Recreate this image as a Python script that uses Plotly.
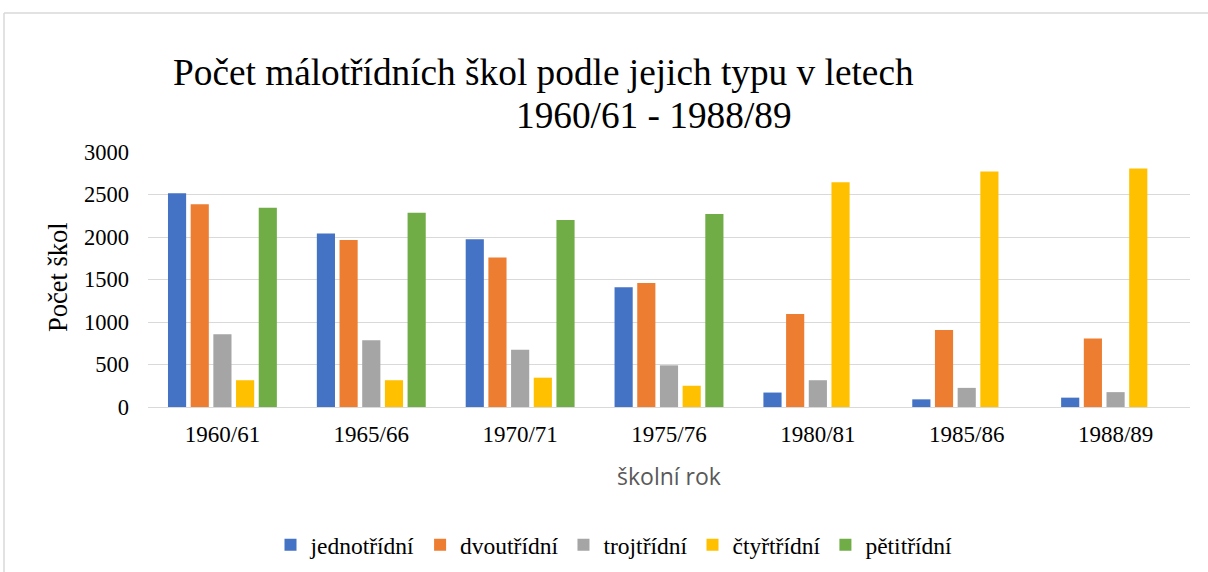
import plotly.graph_objects as go

years = ["1960/61", "1965/66", "1970/71", "1975/76", "1980/81", "1985/86", "1988/89"]
jednotridni = [2515, 2040, 1975, 1410, 170, 90, 110]
dvoutridni = [2385, 1965, 1760, 1460, 1095, 905, 805]
trojtridni = [855, 785, 675, 490, 315, 225, 175]
ctyrtridni = [315, 315, 345, 250, 2645, 2770, 2805]
petitridni = [2345, 2285, 2200, 2270, None, None, None]

series = [
    ("jednotřídní", jednotridni, "#4472C4"),
    ("dvoutřídní", dvoutridni, "#ED7D31"),
    ("trojtřídní", trojtridni, "#A5A5A5"),
    ("čtyřtřídní", ctyrtridni, "#FFC000"),
    ("pětitřídní", petitridni, "#70AD47"),
]

SERIF = "Liberation Serif, Times New Roman, serif"

fig = go.Figure()
for name, vals, col in series:
    fig.add_trace(go.Bar(x=years, y=vals, name=name, marker=dict(color=col, line=dict(width=0))))

W, H = 1208, 572
L, R, T, B = 148, 18, 152, 165
pw, ph = W - L - R, H - T - B
PLOT_BOTTOM = T + ph  # 407 in page pixels

def px(x):
    return (x - L) / pw

def py(y):
    return (PLOT_BOTTOM - y) / ph

fig.update_layout(
    width=W, height=H,
    margin=dict(l=L, r=R, t=T, b=B, autoexpand=False),
    paper_bgcolor="white", plot_bgcolor="white",
    barmode="group", bargap=0.238, bargroupgap=0.2,
    font=dict(family=SERIF, color="black", size=22),
    showlegend=True,
    legend=dict(orientation="h", xref="container", yref="container",
                x=614 / W, xanchor="center", y=1 - 545 / H, yanchor="middle",
                font=dict(family=SERIF, size=23.5, color="black"), itemwidth=30, tracegroupgap=0,
                traceorder="normal"),
    xaxis=dict(showgrid=False, showline=True, linecolor="#D9D9D9", linewidth=1, automargin=False,
               ticks="", tickfont=dict(family=SERIF, size=23, color="black"),
               ticklabelstandoff=6, fixedrange=True),
    yaxis=dict(range=[0, 3000], tickvals=[0, 500, 1000, 1500, 2000, 2500, 3000], automargin=False,
               showgrid=True, gridcolor="#D9D9D9", gridwidth=1, zeroline=False,
               showline=False, ticks="", tickfont=dict(family=SERIF, size=22.5, color="black"),
               ticklabelstandoff=18, fixedrange=True),
    annotations=[
        dict(text="Počet málotřídních škol podle jejich typu v letech", x=px(543.5), y=py(72),
             xref="paper", yref="paper", xanchor="center", yanchor="middle", showarrow=False,
             font=dict(family=SERIF, size=37.3, color="black")),
        dict(text="1960/61 - 1988/89", x=px(653.5), y=py(115),
             xref="paper", yref="paper", xanchor="center", yanchor="middle", showarrow=False,
             font=dict(family=SERIF, size=37.3, color="black")),
        dict(text="Počet škol", x=px(58), y=py(277), textangle=-90,
             xref="paper", yref="paper", xanchor="center", yanchor="middle", showarrow=False,
             font=dict(family=SERIF, size=26.5, color="black")),
        dict(text="školní rok", x=px(669), y=py(476),
             xref="paper", yref="paper", xanchor="center", yanchor="middle", showarrow=False,
             font=dict(family="Open Sans, Liberation Sans, sans-serif", size=23, color="#595959")),
    ],
    shapes=[
        dict(type="line", xref="paper", yref="paper", x0=px(4), x1=px(1208), y0=py(13), y1=py(13),
             line=dict(color="#D9D9D9", width=1.5)),
        dict(type="line", xref="paper", yref="paper", x0=px(4), x1=px(4), y0=py(13), y1=py(580),
             line=dict(color="#D9D9D9", width=1.5)),
    ],
)

fig.write_html("out.html", config={"displayModeBar": False},
               post_script="document.body.style.margin='0';document.body.style.overflow='hidden';")
